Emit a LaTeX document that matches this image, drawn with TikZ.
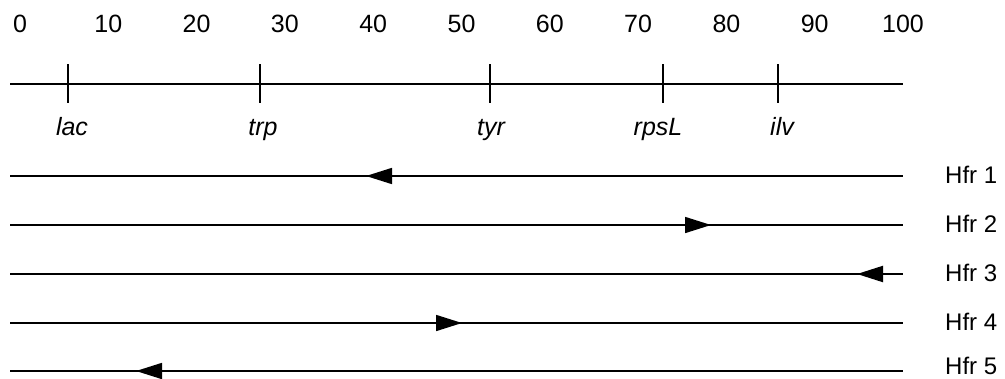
\documentclass[tikz,border=0pt]{standalone}
\usepackage{fontspec}
\setmainfont{Liberation Sans}
\usetikzlibrary{arrows.meta}
\begin{document}
\begin{tikzpicture}[x=1pt,y=-1pt,
  strand/.style={line width=1.6pt,line cap=butt},
  tick/.style={line width=1.6pt},
  scalenum/.style={anchor=base,inner sep=0pt,font=\fontsize{25}{30}\selectfont},
  gene/.style={anchor=base,inner sep=0pt,font=\fontsize{25}{30}\selectfont\itshape},
  hfr/.style={anchor=base west,inner sep=0pt,font=\fontsize{24}{30}\selectfont},
  dir/.style={-{Triangle[length=26pt,width=16pt]},line width=1.6pt}]
\useasboundingbox (0,0) rectangle (1005,378);

% scale numbers 0 ... 100
\foreach \v [count=\i from 0] in {0,10,...,100}
  \node[scalenum] (n\i) at ({20+88.3*\i},32) {\v};

% chromosome map with marker ticks
\coordinate (axL) at (10,84);
\coordinate (axR) at (903,84);
\draw[strand] (axL) -- (axR);
\foreach \nm/\x in {lac/68,trp/260,tyr/490,rpsL/663,ilv/778} {
  \coordinate (\nm-top) at (\x,64);
  \coordinate (\nm-bot) at (\x,103);
  \draw[tick] (\nm-top) -- (\nm-bot);
}
\node[gene] (glac)  at (72,135)  {lac};
\node[gene] (gtrp)  at (263,135) {trp};
\node[gene] (gtyr)  at (491,135) {tyr};
\node[gene] (grpsL) at (658,135) {rpsL};
\node[gene] (gilv)  at (782,135) {ilv};

% Hfr strains: transfer line with direction of transfer
\foreach \k/\y/\tail/\tip/\w in {1/176/392/366/1.6, 2/225/684/711/1.6, 3/274/883/857/2, 4/323/435/462/1.6, 5/371/163/136/1.6} {
  \coordinate (h\k L) at (10,\y);
  \coordinate (h\k R) at (903,\y);
  \coordinate (h\k a) at (\tail,\y);
  \coordinate (h\k b) at (\tip,\y);
  \node[hfr] (lab\k) at (945,{min(\y+7,374)}) {Hfr \k};
  \draw[strand,line width=\w pt] (h\k L) -- (h\k R);
  \draw[dir,line width=\w pt] (h\k a) -- (h\k b);
}
\end{tikzpicture}
\end{document}
